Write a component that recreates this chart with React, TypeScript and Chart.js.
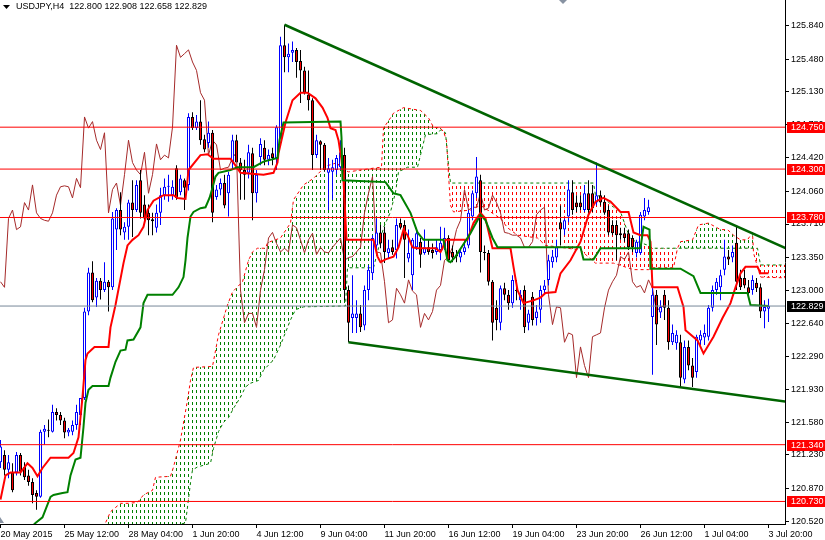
import React, { useEffect, useRef } from "react";
import { Chart, registerables } from "chart.js";
Chart.register(...registerables);

const FONT = "'Liberation Sans', Arial, sans-serif";

const symbolTitle = "USDJPY,H4";

const openP = [
  121.15, 121.23, 121.07, 121.04, 121.04, 121.23, 121.10, 121.01, 120.94, 120.82,
  120.78, 121.48, 121.50, 121.48, 121.69, 121.66, 121.60, 121.47, 121.48, 121.55,
  121.66, 121.84, 122.77, 123.19, 122.92, 123.10, 123.00, 123.09, 123.03, 123.65,
  123.86, 123.62, 123.68, 123.94, 123.86, 124.18, 123.92, 123.83, 123.76, 123.67,
  123.83, 124.02, 124.11, 124.02, 124.31, 124.05, 124.18, 124.13, 124.86, 124.74,
  124.81, 124.62, 124.58, 124.69, 124.00, 124.08, 124.15, 124.04, 124.37, 124.61,
  124.37, 124.29, 124.26, 124.47, 124.04, 124.43, 124.53, 124.40, 124.47, 124.42,
  124.58, 125.63, 125.50, 125.55, 125.58, 125.46, 125.36, 125.10, 125.04, 124.45,
  124.60, 124.56, 124.26, 124.27, 124.29, 124.32, 124.45, 123.00, 122.70, 122.70,
  122.75, 122.62, 123.00, 123.18, 123.48, 123.62, 123.62, 123.40, 123.46, 123.43,
  123.72, 123.70, 123.34, 123.16, 123.46, 123.52, 123.40, 123.46, 123.43, 123.41,
  123.43, 123.46, 123.56, 123.41, 123.38, 123.35, 123.41, 123.48, 123.79, 124.04,
  124.18, 123.41, 123.40, 123.09, 122.81, 122.65, 123.02, 122.95, 122.86, 123.00,
  122.89, 123.00, 122.65, 122.93, 122.70, 122.79, 123.00, 123.11, 123.30, 123.35,
  123.73, 123.65, 123.79, 124.05, 123.94, 123.94, 123.86, 124.04, 124.04, 123.94,
  124.02, 123.95, 123.86, 123.70, 123.70, 123.61, 123.61, 123.61, 123.56, 123.40,
  123.40, 123.79, 123.84, 122.71, 122.95, 122.76, 122.95, 122.81, 122.44, 122.43,
  122.44, 122.04, 122.39, 122.19, 122.12, 122.46, 122.49, 122.50, 122.81, 123.00,
  123.03, 123.22, 123.36, 123.35, 123.51, 123.13, 123.13, 123.03, 123.00, 123.08,
  123.03, 122.77, 122.800
];

const highP = [
  121.39, 121.28, 121.23, 121.14, 121.26, 121.25, 121.15, 121.07, 120.98, 120.85,
  121.50, 121.55, 121.61, 121.77, 121.73, 121.69, 121.63, 121.52, 121.60, 121.77,
  121.84, 122.81, 123.24, 123.31, 123.13, 123.13, 123.30, 123.11, 123.84, 123.88,
  124.05, 123.73, 123.97, 124.18, 124.18, 124.29, 124.02, 123.92, 123.83, 123.92,
  124.10, 124.20, 124.24, 124.18, 124.34, 124.24, 124.20, 124.90, 124.91, 124.88,
  125.04, 124.67, 124.81, 124.72, 124.13, 124.20, 124.24, 124.27, 124.67, 124.67,
  124.42, 124.40, 124.56, 124.53, 124.29, 124.63, 124.61, 124.51, 124.53, 124.77,
  125.72, 125.85, 125.65, 125.67, 125.60, 125.58, 125.40, 125.36, 125.06, 124.67,
  124.61, 124.58, 124.42, 124.40, 124.45, 124.61, 124.53, 123.05, 123.16, 122.89,
  122.84, 123.05, 123.27, 123.59, 123.77, 123.70, 123.68, 123.54, 123.54, 123.77,
  123.77, 123.75, 123.65, 123.56, 123.67, 123.56, 123.65, 123.54, 123.50, 123.54,
  123.68, 123.67, 123.59, 123.48, 123.43, 123.45, 123.54, 123.86, 124.07, 124.43,
  124.24, 123.48, 123.43, 123.11, 122.89, 123.05, 123.08, 123.00, 123.16, 123.11,
  123.00, 123.05, 122.79, 122.98, 122.84, 123.05, 123.11, 123.38, 123.43, 123.54,
  123.91, 123.77, 124.18, 124.18, 124.02, 124.02, 124.13, 124.18, 124.13, 124.37,
  124.07, 124.02, 123.91, 123.75, 123.75, 123.67, 123.67, 123.65, 123.59, 123.54,
  123.84, 123.99, 123.97, 123.14, 123.00, 122.89, 123.00, 122.89, 122.63, 122.57,
  122.52, 122.46, 122.46, 122.27, 122.52, 122.57, 122.63, 122.84, 123.05, 123.13,
  123.22, 123.54, 123.43, 123.48, 123.68, 123.22, 123.22, 123.11, 123.16, 123.13,
  123.07, 122.89, 122.908
];

const lowP = [
  121.09, 121.01, 120.98, 120.83, 121.01, 121.01, 120.96, 120.90, 120.71, 120.64,
  120.77, 121.34, 121.42, 121.47, 121.60, 121.55, 121.41, 121.43, 121.44, 121.50,
  121.55, 121.82, 122.73, 122.87, 122.82, 122.90, 122.98, 122.77, 123.00, 123.43,
  123.59, 123.54, 123.54, 123.57, 123.84, 123.77, 123.70, 123.59, 123.59, 123.62,
  123.70, 123.97, 123.95, 123.97, 123.97, 124.02, 123.86, 124.07, 124.72, 124.72,
  124.56, 124.48, 124.53, 123.73, 123.97, 124.02, 123.88, 123.79, 124.29, 124.40,
  123.97, 123.97, 124.20, 123.75, 123.94, 124.34, 124.34, 124.34, 124.34, 124.29,
  124.56, 125.34, 125.34, 125.45, 125.28, 125.01, 125.10, 124.93, 124.29, 124.42,
  124.29, 124.27, 123.86, 123.97, 124.24, 124.29, 122.89, 122.44, 122.54, 122.54,
  122.55, 122.57, 122.89, 123.11, 123.38, 123.45, 123.29, 123.34, 123.38, 123.34,
  123.65, 123.13, 123.30, 123.00, 123.43, 123.24, 123.38, 123.38, 123.34, 123.38,
  123.32, 123.43, 123.30, 123.30, 123.30, 123.30, 123.38, 123.45, 123.75, 123.99,
  123.19, 123.32, 123.05, 122.46, 122.57, 122.57, 122.89, 122.79, 122.81, 122.89,
  122.79, 122.54, 122.57, 122.62, 122.62, 122.65, 122.95, 123.05, 123.24, 123.30,
  123.48, 123.59, 123.73, 123.81, 123.84, 123.86, 123.84, 123.81, 123.84, 123.91,
  123.91, 123.81, 123.59, 123.59, 123.32, 123.54, 123.52, 123.43, 123.41, 123.35,
  123.38, 123.75, 123.81, 122.09, 122.41, 122.70, 122.68, 122.36, 122.41, 122.36,
  121.96, 122.00, 122.14, 121.96, 122.06, 122.41, 122.41, 122.46, 122.77, 122.95,
  122.89, 123.16, 123.27, 123.30, 123.00, 123.00, 123.02, 122.95, 122.95, 122.98,
  122.70, 122.59, 122.658
];

const closeP = [
  121.32, 121.07, 121.15, 120.85, 121.23, 121.05, 120.99, 120.94, 120.80, 120.78,
  121.48, 121.51, 121.49, 121.69, 121.66, 121.60, 121.47, 121.50, 121.55, 121.69,
  121.84, 122.77, 123.19, 122.89, 123.10, 123.00, 123.09, 123.03, 123.77, 123.86,
  123.65, 123.68, 123.94, 123.86, 124.13, 123.83, 123.77, 123.75, 123.74, 123.83,
  124.02, 124.11, 124.12, 124.11, 123.99, 124.20, 124.10, 124.86, 124.74, 124.81,
  124.61, 124.51, 124.69, 123.83, 124.08, 124.15, 123.91, 124.24, 124.61, 124.37,
  124.29, 124.24, 124.48, 124.04, 124.24, 124.57, 124.40, 124.45, 124.42, 124.75,
  125.63, 125.50, 125.54, 125.58, 125.45, 125.36, 125.12, 125.04, 124.45, 124.61,
  124.56, 124.29, 124.31, 124.32, 124.42, 124.48, 123.00, 122.65, 122.75, 122.75,
  122.60, 123.00, 123.22, 123.56, 123.62, 123.50, 123.41, 123.45, 123.41, 123.70,
  123.67, 123.54, 123.40, 123.54, 123.61, 123.38, 123.46, 123.41, 123.40, 123.46,
  123.51, 123.56, 123.32, 123.35, 123.36, 123.41, 123.46, 123.83, 124.04, 124.22,
  123.41, 123.40, 123.09, 122.65, 122.68, 123.02, 122.95, 122.86, 123.11, 122.99,
  122.95, 122.60, 122.75, 122.68, 122.77, 123.00, 123.05, 123.32, 123.36, 123.46,
  123.65, 123.75, 124.08, 123.86, 123.89, 123.89, 124.04, 123.86, 123.88, 124.02,
  123.94, 123.83, 123.62, 123.61, 123.59, 123.59, 123.56, 123.46, 123.46, 123.52,
  123.81, 123.86, 123.89, 122.95, 122.63, 122.82, 122.81, 122.44, 122.54, 122.52,
  122.06, 122.39, 122.19, 122.06, 122.50, 122.52, 122.54, 122.81, 123.00, 123.09,
  123.16, 123.36, 123.33, 123.41, 123.09, 123.03, 123.05, 122.97, 123.11, 123.02,
  122.77, 122.82, 122.829
];

// Ichimoku lines: [bar index, price]
const tenkan = [
  [0, 120.75], [1.25, 121.01], [2.5, 121.04], [5, 121.04], [6.75, 121.14], [8, 121.09], [9.25, 121.0],
  [10.5, 121.09], [12.5, 121.2], [17, 121.2], [18.25, 121.25], [19.5, 121.42], [20.5, 121.85], [21.25, 122.25],
  [21.75, 122.32], [23.5, 122.39], [27, 122.39], [27.5, 122.6], [28.75, 122.84], [30.75, 123.29], [31.75, 123.48],
  [33, 123.54], [34.5, 123.59], [35.75, 123.68], [36.75, 123.86], [38.25, 123.96], [40.75, 124.02], [43.25, 124.02],
  [44.25, 123.99], [46.25, 123.98], [46.75, 124.18], [47, 124.29], [50, 124.45], [51.75, 124.46], [53.25, 124.41],
  [57.5, 124.41], [58.25, 124.37], [60, 124.26], [65.75, 124.24], [68.25, 124.26], [69.25, 124.37], [69.5, 124.47],
  [71.25, 124.8], [73, 125.04], [75, 125.12], [76.75, 125.12], [78.75, 125.06], [80.5, 124.96], [81.75, 124.85],
  [82.5, 124.74], [83.75, 124.72], [84.5, 124.61], [85.25, 124.4], [85.75, 124.18], [86.5, 123.54], [93.25, 123.54],
  [94.25, 123.36], [95, 123.3], [96.25, 123.33], [98.25, 123.36], [99.5, 123.46], [100.75, 123.65], [101.75, 123.59],
  [103, 123.46], [104.25, 123.45], [108.75, 123.45], [110, 123.41], [110.5, 123.45], [111.25, 123.54], [116.75, 123.54],
  [118.25, 123.72], [120, 123.83], [121.25, 123.77], [123, 123.45], [127.5, 123.45], [128.25, 123.25], [129.25, 123.0],
  [130.75, 122.86], [133.25, 122.89], [135, 122.92], [136.25, 122.97], [138.75, 122.98], [140, 123.18], [142.5, 123.32],
  [145, 123.52], [147, 123.81], [148.75, 123.95], [150.75, 123.99], [152.5, 123.95], [155, 123.84], [157, 123.84],
  [158.25, 123.62], [160, 123.59], [161.75, 123.59], [162.5, 123.52], [163, 123.03], [169.25, 123.03], [170.75, 122.82],
  [171.25, 122.57], [174.25, 122.46], [175.75, 122.32], [178.25, 122.5], [180.5, 122.7], [182.5, 122.86], [183.75, 123.03],
  [185, 123.18], [186.25, 123.25], [189.25, 123.25], [190, 123.18], [192, 123.18]
];

const kijun = [
  [7, 120.42], [8.75, 120.5], [10.5, 120.56], [12.5, 120.78], [13.25, 120.8], [15.5, 120.82], [16.75, 120.83],
  [17.5, 121.01], [18.75, 121.18], [20, 121.2], [20.75, 121.53], [21.25, 121.79], [22, 121.93], [23, 121.97],
  [27, 121.97], [27.5, 122.06], [28.75, 122.23], [30, 122.35], [31.25, 122.36], [31.75, 122.46], [33.25, 122.47],
  [35, 122.6], [35.75, 122.86], [36.75, 122.95], [43, 122.95], [44.5, 123.03], [45.75, 123.14], [46.25, 123.32],
  [46.75, 123.56], [47.5, 123.79], [48.25, 123.84], [50, 123.88], [51.25, 123.89], [52.25, 123.99], [53, 124.1],
  [53.75, 124.22], [54.5, 124.26], [57.5, 124.29], [59.25, 124.32], [63.25, 124.32], [65.75, 124.38], [69.25, 124.42],
  [69.75, 124.61], [70.75, 124.8], [85, 124.81], [85.25, 124.64], [85.5, 124.18], [96.25, 124.16], [98.25, 124.04],
  [100, 124.02], [102.5, 123.83], [104.25, 123.62], [105.75, 123.54], [110.75, 123.54], [111.75, 123.32], [112.5, 123.3],
  [113.75, 123.36], [117.5, 123.61], [120, 123.81], [121.25, 123.75], [123, 123.56], [124.25, 123.46], [145, 123.46],
  [145.75, 123.33], [148.25, 123.33], [150, 123.45], [160, 123.45], [160.75, 123.68], [162.25, 123.65], [162.5, 123.23],
  [170, 123.23], [173.25, 123.15], [175, 122.97], [186.75, 122.97], [187.5, 122.84], [192, 122.83]
];

const spanA = [
  [25, 120.32], [26.25, 120.5], [27.5, 120.62], [30, 120.71], [32, 120.71], [34.25, 120.72], [35.75, 120.8],
  [38, 120.85], [38.75, 120.99], [42.5, 121.0], [43.25, 121.1], [45, 121.39], [46.75, 121.82], [47.5, 122.03],
  [48.25, 122.17], [53, 122.18], [54.5, 122.52], [56.75, 122.84], [58, 122.98], [60.5, 123.09], [62, 123.32],
  [63, 123.41], [64.25, 123.45], [66.25, 123.45], [66.75, 123.51], [70, 123.56], [72.5, 123.72], [73.25, 123.97],
  [75.75, 124.13], [78.25, 124.2], [81.25, 124.33], [84.25, 124.37], [85, 124.31], [87, 124.27], [93.25, 124.31],
  [95.25, 124.32], [95.75, 124.74], [97.5, 124.85], [98.25, 124.9], [100.75, 124.96], [105, 124.93], [107, 124.85],
  [108.25, 124.75], [110, 124.74], [110.75, 124.7], [111.5, 124.61], [112, 124.24], [112.5, 123.91], [113.25, 123.84],
  [117.5, 123.86], [120, 123.91], [122.5, 123.84], [125, 123.77], [126.75, 123.67], [129.25, 123.59], [134.25, 123.56],
  [136.25, 123.48], [140, 123.46], [145, 123.43], [148.75, 123.29], [153.25, 123.29], [158.25, 123.22], [162, 123.22],
  [163, 123.24], [168.25, 123.24], [169.25, 123.45], [170, 123.52], [173, 123.54], [174.5, 123.7], [177, 123.72],
  [180, 123.65], [181.75, 123.65], [183.25, 123.59], [185, 123.54], [186.75, 123.54], [188, 123.62], [188.25, 123.4],
  [189.25, 123.25], [190, 123.14], [197.5, 123.13]
];

const spanB = [
  [25, 120.26], [46.25, 120.5], [46.75, 120.67], [47.5, 120.93], [48, 121.07], [49.25, 121.1], [52.5, 121.14],
  [53.25, 121.3], [54.5, 121.48], [55.75, 121.58], [57, 121.63], [58.25, 121.73], [60, 121.85], [61.25, 121.96],
  [62.5, 122.0], [64.5, 122.03], [65.75, 122.14], [68.25, 122.25], [70, 122.41], [72.5, 122.68], [73.75, 122.79],
  [75.75, 122.82], [86.25, 122.83], [86.75, 123.24], [93.25, 123.24], [94.25, 123.41], [95.75, 123.67], [97.5, 123.84],
  [98.75, 124.05], [99.5, 124.27], [101.75, 124.32], [104.25, 124.32], [105, 124.45], [106.25, 124.67], [109.25, 124.68],
  [110, 124.72], [111.25, 124.69], [112, 124.34], [112.5, 124.15], [148.25, 124.15], [148.75, 124.02], [150.75, 124.0],
  [153.25, 123.89], [155, 123.84], [157.5, 123.54], [159.25, 123.52], [162, 123.48], [163, 123.45], [189.25, 123.45],
  [190, 123.27], [197.5, 123.27]
];

const chikouShift = 26;

const trendUpper = [[71, 125.85], [200, 123.38]];
const trendLower = [[87, 122.44], [200, 121.78]];

const redLevels = [124.75, 124.3, 123.78, 121.34, 120.73];
const bidLevel = 122.829;

const xTickIdx = [0, 16, 32, 48, 64, 80, 96, 112, 128, 144, 160, 176, 192];
const xTickLabels = [
  "20 May 2015", "25 May 12:00", "28 May 04:00", "1 Jun 20:00", "4 Jun 12:00", "9 Jun 04:00",
  "11 Jun 20:00", "16 Jun 12:00", "19 Jun 04:00", "23 Jun 20:00", "26 Jun 12:00", "1 Jul 04:00", "3 Jul 20:00"
];
const yTicks = [125.84, 125.48, 125.13, 124.78, 124.42, 124.06, 123.71, 123.35, 123.0, 122.64, 122.29, 121.93, 121.58, 121.23, 120.87, 120.52];

function makePattern(color: string) {
  const c = document.createElement("canvas");
  c.width = 4;
  c.height = 6;
  const g = c.getContext("2d")!;
  g.fillStyle = color;
  g.fillRect(0, 0, 1, 3);
  return g.createPattern(c, "repeat")!;
}

export default function App() {
  const ref = useRef<HTMLCanvasElement>(null);

  useEffect(() => {
    document.body.style.margin = "0";
    const canvas = ref.current!;
    const n = closeP.length;
    const idx = closeP.map((_, i) => i);
    const up = (i: number) => closeP[i] >= openP[i];
    const pts = (arr: number[][]) => arr.map(([x, y]) => ({ x, y }));
    const hline = (v: number) => [{ x: -2, y: v }, { x: 200, y: v }];

    const green = makePattern("#008000");
    const red = makePattern("#ff0000");

    const wick = idx.map((i) => ({ x: i, y: [lowP[i], highP[i]] }));
    const body = idx.map((i) => ({ x: i, y: [openP[i], closeP[i]] }));
    const chikou = closeP.slice(chikouShift).map((c, k) => ({ x: k, y: c }));

    const lineBase = { pointRadius: 0, pointHoverRadius: 0, tension: 0, clip: 0, fill: false };

    const datasets: any[] = [
      { ...lineBase, type: "line", data: pts(spanA), borderColor: "#ff0000", borderWidth: 1, borderDash: [3, 3],
        fill: { target: 1, above: green, below: red }, order: 9 },
      { ...lineBase, type: "line", data: pts(spanB), borderColor: "#008000", borderWidth: 1, borderDash: [3, 3], order: 8 },
      { ...lineBase, type: "line", data: chikou, borderColor: "#a52a2a", borderWidth: 1, order: 7 },
      { type: "bar", data: wick, backgroundColor: (c: any) => (up(c.dataIndex) ? "#0000ff" : "#000000"),
        borderWidth: 0, barThickness: 1, grouped: false, inflateAmount: 0, order: 6 },
      { type: "bar", data: body, backgroundColor: (c: any) => (up(c.dataIndex) ? "#ffffff" : "#ff0000"),
        borderColor: (c: any) => (up(c.dataIndex) ? "#0000ff" : "#000000"), borderWidth: 1, borderSkipped: false,
        barThickness: 3, grouped: false, inflateAmount: 0, order: 5 },
      { ...lineBase, type: "line", data: pts(tenkan), borderColor: "#ff0000", borderWidth: 2, order: 4 },
      { ...lineBase, type: "line", data: pts(kijun), borderColor: "#008000", borderWidth: 2, order: 3 },
      ...redLevels.map((v) => ({ ...lineBase, type: "line", data: hline(v), borderColor: "#ff0000", borderWidth: 1, order: 2 })),
      { ...lineBase, type: "line", data: hline(bidLevel), borderColor: "#778899", borderWidth: 1, order: 2 },
      { ...lineBase, type: "line", data: pts(trendUpper), borderColor: "#006400", borderWidth: 2.5, order: 1 },
      { ...lineBase, type: "line", data: pts(trendLower), borderColor: "#006400", borderWidth: 2.5, order: 1 },
    ];

    const overlay = {
      id: "overlay",
      afterDraw(chart: any) {
        const { ctx } = chart;
        const ys = chart.scales.y;
        ctx.save();
        ctx.font = `9px ${FONT}`;
        ctx.textBaseline = "middle";
        ctx.textAlign = "left";
        const box = (v: number, bg: string) => {
          const py = Math.round(ys.getPixelForValue(v));
          ctx.fillStyle = bg;
          ctx.fillRect(787, py - 5, 38, 11);
          ctx.fillStyle = "#ffffff";
          ctx.fillText(v.toFixed(3), 791, py + 0.5);
        };
        redLevels.forEach((v) => box(v, "#ff0000"));
        box(bidLevel, "#000000");

        // title
        ctx.fillStyle = "#000000";
        ctx.beginPath();
        ctx.moveTo(3, 5);
        ctx.lineTo(10, 5);
        ctx.lineTo(6.5, 9);
        ctx.closePath();
        ctx.fill();
        const last = n - 1;
        const title = `${symbolTitle}  ${openP[last].toFixed(3)} ${highP[last].toFixed(3)} ${lowP[last].toFixed(3)} ${closeP[last].toFixed(3)}`;
        ctx.fillText(title, 16, 7);

        // small gray markers
        ctx.fillStyle = "#8792a2";
        ctx.beginPath();
        ctx.moveTo(559, 0);
        ctx.lineTo(567, 0);
        ctx.lineTo(563, 4);
        ctx.closePath();
        ctx.fill();
        ctx.beginPath();
        ctx.moveTo(0, 517);
        ctx.lineTo(4, 523);
        ctx.lineTo(0, 523);
        ctx.closePath();
        ctx.fill();
        ctx.restore();
      },
    };

    const zeroPad = (s: any) => {
      s.paddingLeft = 0;
      s.paddingRight = 0;
      s.paddingTop = 0;
      s.paddingBottom = 0;
    };

    const chart = new Chart(canvas, {
      type: "line",
      data: { datasets },
      options: {
        responsive: false,
        maintainAspectRatio: false,
        animation: false,
        devicePixelRatio: 1,
        events: [],
        layout: { padding: 0 },
        plugins: { legend: { display: false }, tooltip: { enabled: false }, title: { display: false } },
        scales: {
          x: {
            type: "linear",
            min: -0.125,
            max: 196.125,
            offset: false,
            bounds: "data",
            position: "bottom",
            afterBuildTicks: (s: any) => {
              s.ticks = xTickIdx.map((v) => ({ value: v }));
            },
            afterFit: (s: any) => {
              s.height = 16;
              zeroPad(s);
            },
            grid: { display: true, offset: false, drawOnChartArea: false, drawTicks: true, tickLength: 4, color: "#000000", lineWidth: 1 },
            border: { display: true, color: "#000000", width: 1 },
            ticks: {
              autoSkip: false, maxRotation: 0, minRotation: 0, align: "start", padding: 1, color: "#000000",
              font: { family: FONT, size: 9 },
              callback: (_v: any, i: number) => xTickLabels[i],
            },
          },
          y: {
            type: "linear",
            position: "right",
            min: 120.488,
            max: 126.116,
            bounds: "data",
            afterBuildTicks: (s: any) => {
              s.ticks = yTicks.map((v) => ({ value: v }));
            },
            afterFit: (s: any) => {
              s.width = 40;
              zeroPad(s);
            },
            grid: { display: true, drawOnChartArea: false, drawTicks: true, tickLength: 4, color: "#000000", lineWidth: 1 },
            border: { display: true, color: "#000000", width: 1 },
            ticks: {
              autoSkip: false, padding: 2, color: "#000000", crossAlign: "near",
              font: { family: FONT, size: 9 },
              callback: (v: any) => Number(v).toFixed(3),
            },
          },
        },
      } as any,
      plugins: [overlay],
    });
    return () => chart.destroy();
  }, []);

  return (
    <div style={{ position: "fixed", left: 0, top: 0, width: 825, height: 540, background: "#ffffff" }}>
      <canvas ref={ref} width={825} height={540} style={{ display: "block" }} />
    </div>
  );
}
